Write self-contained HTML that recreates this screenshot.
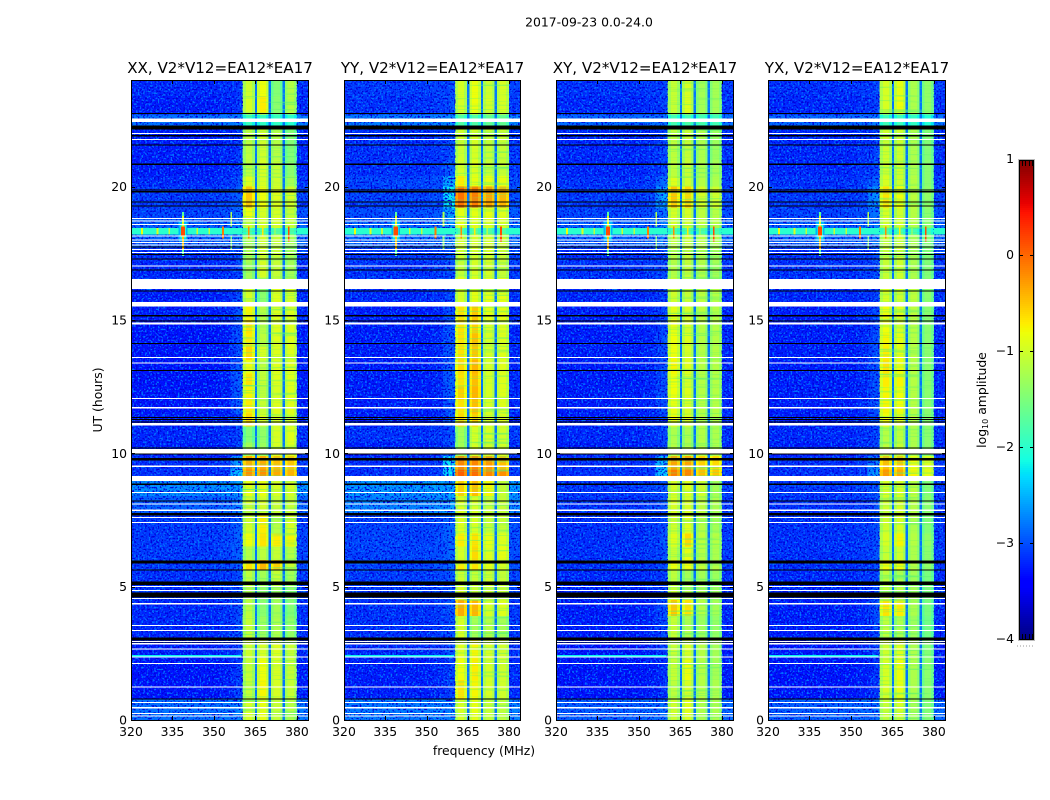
<!DOCTYPE html>
<html lang="en">
<head>
<meta charset="utf-8">
<title>2017-09-23 0.0-24.0</title>
<style>
html,body{margin:0;padding:0;background:#fff;}
svg{display:block;font-family:"DejaVu Sans","Liberation Sans",sans-serif;fill:#000;}
.cell{shape-rendering:crispEdges;}
.tick{font-size:12.4px;}
.ptitle{font-size:15.1px;}
</style>
</head>
<body>
<svg id="chart" width="1050" height="800" viewBox="0 0 1050 800" xmlns="http://www.w3.org/2000/svg">
  <defs>
    <filter id="grain" x="0" y="0" width="1" height="1" color-interpolation-filters="sRGB">
      <feTurbulence type="fractalNoise" baseFrequency="0.55" numOctaves="1" seed="3"/>
      <feColorMatrix values="0 0 0 0 0  0 0 0 0 0.45  0 0 0 0 1  8 0 0 0 -4.2"/>
    </filter>
    <filter id="grain-dark" x="0" y="0" width="1" height="1" color-interpolation-filters="sRGB">
      <feTurbulence type="fractalNoise" baseFrequency="0.55" numOctaves="1" seed="11"/>
      <feColorMatrix values="0 0 0 0 0  0 0 0 0 0  0 0 0 0 0.85  8 0 0 0 -4.3"/>
    </filter>
    <filter id="streak" x="0" y="0" width="1" height="1" color-interpolation-filters="sRGB">
      <feTurbulence type="fractalNoise" baseFrequency="0.015 0.55" numOctaves="2" seed="7"/>
      <feColorMatrix values="0 0 0 0 0.35  0 0 0 0 0.95  0 0 0 0 0.45  2.6 0 0 0 -1.4"/>
    </filter>
  </defs>
  <text x="589" y="26.5" text-anchor="middle" font-size="12.4">2017-09-23 0.0-24.0</text>
  <text x="102" y="400" text-anchor="middle" font-size="12.4" transform="rotate(-90 102 400)">UT (hours)</text>
  <text x="484" y="755" text-anchor="middle" font-size="12.4">frequency (MHz)</text>
  <text x="986" y="400" text-anchor="middle" font-size="12.4" transform="rotate(-90 986 400)">log<tspan font-size="8" dy="2">10</tspan><tspan dy="-2"> amplitude</tspan></text>
</svg>
<script>
// ---------- chart data ----------
const panelTitles = ['XX, V2*V12=EA12*EA17', 'YY, V2*V12=EA12*EA17', 'XY, V2*V12=EA12*EA17', 'YX, V2*V12=EA12*EA17'];
const xTicks = [320, 335, 350, 365, 380];
const yTicks = [0, 5, 10, 15, 20];
const colorTicks = [-4, -3, -2, -1, 0, 1];
const freqLimits = [320, 384];
const timeLimits = [0, 24];
const colorLimits = [-4, 1];

// Hour boundaries of the heatmap rows
const timeEdges = [0,0.8,1.5,2.3,3,3.9,4.5,5,5.6,6,6.5,7,7.7,8.4,9,9.4,9.9,10.4,11,11.5,12,12.5,13,13.5,14,14.5,15,15.5,16.2,16.6,17.2,17.7,18.2,18.45,18.8,19.2,20,20.4,21,22.2,22.7,23.4,24];

// Frequency boundaries (MHz) of the heatmap columns
const freqEdges = [320,352,356,358,360.4,361.5,363.7,364.8,365.6,366.6,368.8,369.8,370.6,371.6,373.8,374.8,375.6,376.6,378.9,380,384];
// Which value of a row each column reads: 0 background, 1 pre-band ramp, 2-5 sub-bands, 6 band gap
const columnSource = [0,0,1,1,2,2,2,6,3,3,3,6,4,4,4,6,5,5,5,0];
// Brightness change across each column (log10), read from the sub-band edges
const columnOffset = [-0.05,0,-0.08,0,-0.18,0.05,-0.2,0,-0.18,0.05,-0.2,0,-0.15,0.05,-0.15,0,-0.15,0.05,-0.15,0];
const gapValue = [-2.8];

// Per-row values: [background, ramp, band 1, band 2, band 3, band 4]
const xxRows = [
[-2.75,-2.7,-1,-0.9,-1.1,-1.2],[-3.25,-3.1,-1.1,-0.8,-1,-1.1],[-3.25,-3.1,-1.1,-0.85,-1,-1.1],[-3.2,-3.1,-1.05,-1,-0.95,-1.1],
[-3.15,-3,-1.1,-1.35,-1.25,-1.4],[-3.15,-3,-1.15,-1.45,-1.3,-1.5],[-3.1,-3,-1.2,-1.4,-1.3,-1.45],[-3.1,-3,-1.15,-1.3,-1.1,-1.3],
[-3.05,-2.9,-0.7,-0.45,-0.6,-1.05],[-3.05,-2.9,-1.2,-1.15,-1.1,-1.2],[-3.05,-2.9,-0.85,-0.7,-0.75,-0.8],[-3.05,-2.9,-1,-0.75,-1.2,-1],
[-2.85,-2.7,-1,-1,-1.1,-1.1],[-2.6,-2.55,-0.9,-0.9,-1,-1],[-3.1,-2.4,-0.25,-0.25,-0.4,-0.45],[-3.1,-2.6,-0.4,-0.4,-0.5,-0.55],
[-3.2,-3.1,-1.3,-1.35,-1,-0.95],[-3.15,-3.05,-1.5,-1.4,-1,-0.95],[-3.2,-3.05,-0.65,-1,-1,-1],[-3.25,-2.95,-0.75,-1.1,-0.95,-0.95],
[-3.25,-2.95,-0.8,-1.15,-1,-0.95],[-3.25,-2.95,-0.7,-1.1,-0.95,-0.95],[-3.25,-2.95,-0.85,-1.15,-0.95,-0.95],[-3.25,-3,-0.65,-1,-0.95,-0.95],
[-3.25,-3,-0.75,-1.15,-0.95,-0.95],[-3.25,-3,-0.7,-1.2,-0.95,-0.95],[-3.2,-3,-0.8,-1.2,-0.95,-0.95],[-3.2,-3,-1,-1.45,-0.95,-1],
[-3.1,-3,-1.3,-1.3,-1.1,-1.1],[-3.15,-3.05,-1.3,-1,-1.1,-1.3],[-3.1,-3,-1.25,-1.05,-1.1,-1.3],[-2.85,-2.7,-1.2,-1.05,-1.1,-1.3],
[-2,-2,-1.85,-1.8,-1.8,-1.85],[-2.85,-2.7,-1.05,-1,-1,-1.1],[-3,-2.85,-0.85,-1,-1,-1.1],[-3.05,-2.9,-0.55,-0.85,-0.95,-1],
[-3.15,-3,-0.95,-1,-1.05,-1.3],[-3.2,-3.1,-1.15,-1,-1.1,-1.45],[-3.2,-3.1,-1.15,-1.05,-1.2,-1.5],[-2.75,-2.7,-2,-2,-2,-2.05],
[-3.2,-3.1,-1,-0.75,-1.45,-1.2],[-3.15,-3.1,-1.05,-0.85,-1.5,-1.2]];
const yyRows = [
[-2.7,-2.7,-1,-0.9,-1.1,-1.15],[-3.2,-3.05,-0.7,-0.8,-1,-1.05],[-3.2,-3.05,-0.85,-0.75,-1,-1.05],[-3.15,-3,-0.95,-0.8,-1,-1.05],
[-3.1,-3,-1,-1.3,-1.2,-1.3],[-3.1,-2.95,-0.4,-0.45,-1,-0.95],[-3.05,-2.95,-1,-1.1,-1.1,-1.1],[-3.05,-2.95,-1.05,-1.1,-1.05,-1.1],
[-3,-2.85,-0.75,-0.7,-0.9,-1],[-3,-2.85,-1,-0.65,-0.95,-0.9],[-3,-2.85,-0.75,-0.7,-0.9,-0.95],[-3,-2.85,-0.95,-1,-1.1,-1.1],
[-2.65,-2.55,-0.95,-1,-1.1,-1.1],[-2.55,-2.5,-0.6,-0.5,-0.8,-1.1],[-3.1,-2.2,0,-0.05,-0.2,-0.25],[-3.1,-2.2,-0.2,-0.2,-0.3,-0.5],
[-3.2,-3,-1.3,-1,-1,-1],[-3.1,-3,-1.3,-1,-1,-1.05],[-3.2,-2.95,-0.65,-0.6,-1,-0.95],[-3.2,-2.95,-0.7,-0.5,-1,-0.95],
[-3.2,-2.9,-0.6,-0.45,-1,-0.95],[-3.2,-2.9,-0.7,-0.5,-1,-0.95],[-3.2,-2.9,-0.65,-0.45,-1,-0.95],[-3.2,-2.95,-0.7,-0.55,-1,-0.95],
[-3.2,-2.95,-0.7,-0.5,-1,-0.95],[-3.2,-2.95,-0.7,-0.6,-1,-0.95],[-3.2,-3,-0.7,-0.55,-0.9,-0.9],[-3.15,-3,-1,-0.9,-0.9,-0.9],
[-3.05,-2.95,-0.9,-0.9,-0.9,-0.9],[-3.1,-3,-1.1,-1,-1,-1.1],[-3.05,-2.95,-1.05,-1,-1,-1.1],[-2.8,-2.6,-1,-1,-1,-1.05],
[-2,-2,-1.8,-1.75,-1.8,-1.8],[-2.8,-2.6,-0.95,-0.95,-0.95,-1],[-2.95,-2.5,-0.9,-0.9,-0.9,-0.95],[-3,-2.2,-0.1,-0.15,-0.35,-0.45],
[-3,-2.5,-0.75,-0.9,-0.9,-0.9],[-3.1,-2.9,-1,-0.95,-1.1,-1.1],[-3.1,-3,-1.05,-1,-1.1,-1.1],[-2.7,-2.65,-1.8,-1.8,-1.7,-1.7],
[-3.1,-3,-1,-0.85,-1,-1],[-3.05,-3,-1,-0.85,-1.05,-1]];
const xyRows = [
[-2.85,-2.8,-1.05,-0.95,-1.25,-1.25],[-3.25,-3.15,-1.15,-1,-1.2,-1.25],[-3.25,-3.15,-1.1,-0.85,-1.2,-1.3],[-3.25,-3.1,-1.1,-1,-1.2,-1.3],
[-3.2,-3.05,-1.1,-1.25,-1.35,-1.4],[-3.2,-3,-0.55,-0.7,-1.2,-1.3],[-3.15,-3.05,-1.1,-1.25,-1.3,-1.35],[-3.15,-3.05,-1.15,-1.3,-1.3,-1.35],
[-3.1,-3,-0.85,-0.85,-1.1,-1.2],[-3.1,-3,-1.1,-0.9,-1.2,-1.25],[-3.1,-3,-0.95,-0.65,-1.15,-1.2],[-3.1,-3,-1.05,-0.95,-1.2,-1.3],
[-3.1,-3,-1,-1,-1.15,-1.25],[-3.05,-2.95,-1,-0.95,-1.05,-1.3],[-3.1,-2.35,-0.15,-0.2,-0.5,-0.55],[-3.1,-2.45,-0.35,-0.35,-0.6,-0.65],
[-3.2,-3.05,-1.2,-1.2,-1.2,-1.25],[-3.15,-3.05,-1.25,-1.25,-1.2,-1.25],[-3.2,-3.05,-0.85,-0.95,-1.2,-1.2],[-3.2,-3,-0.9,-1,-1.2,-1.2],
[-3.2,-3,-0.85,-0.95,-1.2,-1.2],[-3.2,-3,-0.85,-1,-1.2,-1.2],[-3.2,-3,-0.8,-0.95,-1.2,-1.2],[-3.2,-3,-0.85,-1,-1.2,-1.2],
[-3.2,-3,-0.85,-0.95,-1.2,-1.2],[-3.2,-3.05,-0.9,-1,-1.2,-1.2],[-3.2,-3.05,-0.9,-1,-1.15,-1.2],[-3.15,-3.05,-1.05,-1.1,-1.15,-1.2],
[-3.1,-3,-1.1,-1.1,-1.2,-1.2],[-3.1,-3,-1.2,-1.1,-1.2,-1.3],[-3.1,-3,-1.2,-1.1,-1.2,-1.3],[-2.85,-2.7,-1.15,-1.1,-1.2,-1.25],
[-2,-2,-1.85,-1.85,-1.85,-1.85],[-2.85,-2.7,-1.05,-1.05,-1.15,-1.2],[-3,-2.8,-1,-1,-1.15,-1.2],[-3.05,-2.55,-0.55,-0.65,-1,-1.05],
[-3.1,-2.85,-0.95,-1.05,-1.2,-1.25],[-3.15,-3.05,-1.15,-1.1,-1.25,-1.3],[-3.15,-3.05,-1.15,-1.1,-1.25,-1.35],[-2.8,-2.75,-1.9,-1.9,-1.9,-1.9],
[-3.15,-3.05,-1.1,-0.95,-1.3,-1.3],[-3.1,-3.05,-1.1,-1,-1.3,-1.3]];
const yxRows = [
[-2.85,-2.8,-1.1,-1,-1.3,-1.5],[-3.25,-3.15,-1,-0.9,-1.25,-1.45],[-3.25,-3.15,-1,-0.85,-1.25,-1.45],[-3.25,-3.1,-1.05,-0.95,-1.25,-1.5],
[-3.2,-3.05,-1.15,-1.25,-1.35,-1.6],[-3.2,-3,-0.7,-0.75,-1.25,-1.55],[-3.15,-3.05,-1.1,-1.15,-1.3,-1.55],[-3.15,-3.05,-1.15,-1.25,-1.3,-1.55],
[-3.1,-3,-0.85,-0.85,-1.2,-1.4],[-3.1,-3,-1.1,-1.05,-1.25,-1.45],[-3.1,-3,-1,-0.8,-1.2,-1.4],[-3.1,-3,-1.05,-1,-1.25,-1.5],
[-3.1,-3,-1.05,-1,-1.2,-1.45],[-3.05,-2.95,-1,-1,-1.15,-1.5],[-3.1,-2.6,-0.3,-0.4,-0.8,-0.9],[-3.1,-2.7,-0.5,-0.55,-0.85,-0.95],
[-3.2,-3.05,-1.15,-1.1,-1.25,-1.45],[-3.15,-3.05,-1.2,-1.15,-1.25,-1.45],[-3.2,-3.05,-0.85,-0.95,-1.2,-1.45],[-3.2,-3,-0.8,-0.85,-1.2,-1.45],
[-3.2,-3,-0.8,-0.85,-1.2,-1.45],[-3.2,-3,-0.75,-0.8,-1.2,-1.45],[-3.2,-3,-0.7,-0.85,-1.2,-1.45],[-3.2,-3,-0.75,-0.9,-1.2,-1.45],
[-3.2,-3,-0.8,-0.9,-1.2,-1.45],[-3.2,-3.05,-0.85,-1,-1.2,-1.45],[-3.2,-3.05,-0.85,-0.95,-1.15,-1.45],[-3.15,-3.05,-1,-1.05,-1.15,-1.45],
[-3.1,-3,-1.05,-1.05,-1.2,-1.45],[-3.1,-3,-1.1,-1.05,-1.25,-1.5],[-3.1,-3,-1.1,-1.05,-1.25,-1.5],[-2.85,-2.75,-1.1,-1.05,-1.25,-1.5],
[-2,-2,-1.85,-1.85,-1.9,-1.95],[-2.85,-2.75,-1.05,-1.05,-1.2,-1.45],[-3,-2.8,-1,-1.05,-1.2,-1.45],[-3.05,-2.65,-0.7,-0.85,-1.15,-1.4],
[-3.1,-2.9,-1,-1.05,-1.2,-1.45],[-3.15,-3.05,-1.05,-1.05,-1.25,-1.45],[-3.15,-3.05,-1.05,-1.05,-1.25,-1.5],[-2.8,-2.75,-1.95,-1.95,-2,-2.1],
[-3.15,-3.05,-1,-0.85,-1.25,-1.4],[-3.1,-3.05,-1,-0.9,-1.25,-1.4]];

// Localised bright features: [hour start, hour end, freq start, freq end, log10 amplitude]
const sourceFeatures = [
[18.2,18.45,320,360.4,-2],[18.2,18.45,380,384,-2],[17.95,18.7,337.2,340.4,-2.5],[18.05,18.6,337.9,339.8,-2],[17.4,19.05,338.5,339.2,-1.7],[17.65,18.15,338.5,339.2,-0.5],[18.5,18.9,338.5,339.2,-0.9],[18.15,18.5,338,339.6,0.15],
[17.65,18.15,355.9,356.6,-1.45],[18.5,19.05,355.9,356.6,-1.2],[18.2,18.45,323.7,324.4,-0.8],[18.2,18.45,329.3,330,-0.9],[18.2,18.45,333.5,334.1,-1.1],
[18.2,18.45,343.6,344.2,-1],[18.2,18.45,348,348.5,-1.1],[18.05,18.5,352.9,353.6,-0.1],[18.05,18.5,362.3,362.9,-0.2],[18.1,18.5,367.3,367.9,-0.7],
[18.15,18.45,371.8,372.3,-1.2],[17.95,18.5,376.7,377.4,0.15],[2.39,2.44,320,360,-2.2]];

// Masked (white) and zero-amplitude (black) rows, in hours
const maskedRows = [
[22.43,22.55],[21.97,22.01],[21.75,21.79],[18.79,18.83],[18.69,18.73],[18.56,18.6],[18.13,18.17],[17.98,18.02],[17.88,17.92],[17.79,17.83],[17.63,17.67],[17.51,17.55],[17.01,17.05],
[16.16,16.53],[15.5,15.67],[14.83,14.9],[13.58,13.62],[13.37,13.41],[12.04,12.08],[11.68,11.73],[11.04,11.13],[10,10.17],[9.48,9.54],[8.97,9.15],[8.51,8.55],[8.08,8.12],[7.84,7.9],[7.58,7.62],[7.39,7.43],
[4.98,5.02],[4.84,4.88],[4.54,4.58],[4.34,4.38],[3.53,3.57],[3.33,3.37],[2.93,2.97],[2.84,2.88],[2.64,2.68],[2.35,2.39],[2.1,2.14],[1.21,1.25],[0.63,0.67],[0.44,0.48],[0.23,0.27],[0.13,0.17]];
const zeroRows = [
[22.73,22.77],[22.14,22.3],[21.89,21.93],[21.54,21.58],[20.82,20.86],[19.85,19.89],[19.79,19.83],[19.41,19.45],[19.25,19.29],[17.71,17.75],[17.44,17.48],[17.26,17.3],[16.85,16.89],[16.07,16.11],[15.14,15.18],[14.95,14.99],[14.1,14.14],[13.09,13.13],
[11.33,11.37],[11.25,11.29],[11.16,11.2],[10.18,10.22],[9.95,9.99],[9.74,9.82],[8.82,8.86],[8.2,8.24],[7.66,7.76],[5.87,5.99],[5.6,5.64],[5.07,5.19],[4.59,4.78],[2.98,3.09],[2.9,2.93],[0.76,0.8]];

const panelRows = [xxRows, yyRows, xyRows, yxRows];
const panelBoxes = [{l:131,r:308},{l:344,r:520},{l:556,r:733},{l:768,r:945}];
const plotTop = 80, plotBottom = 720;
const barBox = {l:1019, r:1034, t:160, b:640};

// ---------- scales ----------
const NS = 'http://www.w3.org/2000/svg';
const svg = document.getElementById('chart');
function make(tag, attrs, parent) {
  const el = document.createElementNS(NS, tag);
  for (const k in attrs) el.setAttribute(k, attrs[k]);
  (parent || svg).appendChild(el);
  return el;
}
function yScale(h) { return plotBottom - (h - timeLimits[0]) / (timeLimits[1] - timeLimits[0]) * (plotBottom - plotTop); }
function xScale(box, f) { return box.l + (f - freqLimits[0]) / (freqLimits[1] - freqLimits[0]) * (box.r - box.l); }
function barScale(v) { return barBox.b - (v - colorLimits[0]) / (colorLimits[1] - colorLimits[0]) * (barBox.b - barBox.t); }
function clamp(v) { return Math.max(0, Math.min(1, v)); }
function jet(v) {
  const t = clamp((v - colorLimits[0]) / (colorLimits[1] - colorLimits[0]));
  let r, g, b;
  if (t < 0.35) r = 0; else if (t < 0.66) r = (t - 0.35) / 0.31; else if (t < 0.89) r = 1; else r = 1 - 0.5 * (t - 0.89) / 0.11;
  if (t < 0.125) g = 0; else if (t < 0.375) g = (t - 0.125) / 0.25; else if (t < 0.64) g = 1; else if (t < 0.91) g = 1 - (t - 0.64) / 0.27; else g = 0;
  if (t < 0.11) b = 0.5 + 0.5 * t / 0.11; else if (t < 0.34) b = 1; else if (t < 0.65) b = 1 - (t - 0.34) / 0.31; else b = 0;
  return 'rgb(' + Math.round(r * 255) + ',' + Math.round(g * 255) + ',' + Math.round(b * 255) + ')';
}

// ---------- panels ----------
panelRows.forEach(function (rows, p) {
  const box = panelBoxes[p];
  const g = make('g', {});
  
  

  make('rect', {x: box.l, y: plotTop, width: box.r - box.l, height: plotBottom - plotTop, fill: '#fff'}, g);

  rows.forEach(function (row, r) {
    const y0 = yScale(timeEdges[r + 1]), y1 = yScale(timeEdges[r]);
    columnSource.forEach(function (src, c) {
      const x0 = xScale(box, freqEdges[c]), x1 = xScale(box, freqEdges[c + 1]);
      const base = src === 6 ? gapValue[0] : row[src];
      const v = base + columnOffset[c];
      const cell = make('rect', {class: 'cell', x: x0, y: y0, width: x1 - x0, height: y1 - y0, fill: jet(v)}, g);
      
      
    });
  });

  const bandL = xScale(box, 360.4), bandR = xScale(box, 380);
  [[box.l, bandL], [bandR, box.r]].forEach(function (span) {
    make('rect', {x: span[0], y: plotTop, width: span[1] - span[0], height: plotBottom - plotTop, filter: 'url(#grain)'}, g);
    make('rect', {x: span[0], y: plotTop, width: span[1] - span[0], height: plotBottom - plotTop, filter: 'url(#grain-dark)'}, g);
  });
  make('rect', {x: bandL, y: plotTop, width: bandR - bandL, height: plotBottom - plotTop, filter: 'url(#streak)'}, g);

  sourceFeatures.forEach(function (f) {
    const x0 = xScale(box, f[2]), x1 = xScale(box, f[3]);
    const y0 = yScale(f[1]), y1 = yScale(f[0]);
    const mark = make('rect', {class: 'cell', x: x0, y: y0, width: x1 - x0, height: y1 - y0, fill: jet(f[4])}, g);
    
    
  });

  maskedRows.forEach(function (m) {
    const row = make('rect', {class: 'cell', x: box.l, y: yScale(m[1]), width: box.r - box.l, height: yScale(m[0]) - yScale(m[1]), fill: '#fff'}, g);
    
    
  });
  zeroRows.forEach(function (m) {
    const row = make('rect', {class: 'cell', x: box.l, y: yScale(m[1]), width: box.r - box.l, height: yScale(m[0]) - yScale(m[1]), fill: '#000'}, g);
    
    
  });

  const frame = make('rect', {x: box.l + 0.5, y: plotTop + 0.5, width: box.r - box.l, height: plotBottom - plotTop, fill: 'none', stroke: '#000', 'stroke-width': 1}, g);
  
  

  xTicks.forEach(function (t) {
    const x = Math.round(xScale(box, t)) + 0.5;
    make('path', {d: 'M' + x + ' ' + plotBottom + 'v-4M' + x + ' ' + plotTop + 'v4', stroke: '#000', 'stroke-width': 1, fill: 'none'}, g);
    const lab = make('text', {class: 'tick', x: xScale(box, t), y: 736, 'text-anchor': 'middle'}, g);
    lab.textContent = t;
    
    
  });
  yTicks.forEach(function (t) {
    const y = Math.round(yScale(t)) + 0.5;
    make('path', {d: 'M' + box.l + ' ' + y + 'h4M' + (box.r + 1) + ' ' + y + 'h-4', stroke: '#000', 'stroke-width': 1, fill: 'none'}, g);
    const lab = make('text', {class: 'tick', x: box.l - 4, y: yScale(t) + 4.5, 'text-anchor': 'end'}, g);
    lab.textContent = t;
    
    
  });

  const title = make('text', {class: 'ptitle', x: (box.l + box.r) / 2 + 0.5, y: 73, 'text-anchor': 'middle'}, g);
  title.textContent = panelTitles[p];
  
  
});

// ---------- colorbar ----------
const bar = make('g', {});


for (let y = barBox.t; y < barBox.b; y += 2) {
  const v = colorLimits[1] - (y + 1 - barBox.t) / (barBox.b - barBox.t) * (colorLimits[1] - colorLimits[0]);
  make('rect', {class: 'cell', x: barBox.l, y: y, width: barBox.r - barBox.l, height: 2, fill: jet(v)}, bar);
}
make('rect', {x: barBox.l + 0.5, y: barBox.t + 0.5, width: barBox.r - barBox.l - 1, height: barBox.b - barBox.t - 1, fill: 'none', stroke: '#000', 'stroke-width': 1}, bar);
make('rect', {x: barBox.l - 0.5, y: barBox.t - 0.5, width: barBox.r - barBox.l + 1, height: barBox.b - barBox.t + 1, fill: 'none', stroke: '#bbb', 'stroke-width': 1}, bar);
colorTicks.forEach(function (t) {
  const y = Math.round(barScale(t)) - 0.5;
  if (t > colorLimits[0] && t < colorLimits[1]) {
    make('path', {d: 'M' + barBox.l + ' ' + y + 'h4M' + barBox.r + ' ' + y + 'h-4', stroke: '#000', 'stroke-width': 1, fill: 'none'}, bar);
  }
  const lab = make('text', {class: 'tick', x: barBox.l - 5, y: barScale(t) + 3, 'text-anchor': 'end'}, bar);
  lab.textContent = String(t).replace('-', '\u2212');
  
  
});
[1022.5, 1025.5, 1029.5, 1032.5].forEach(function (x) {
  make('path', {d: 'M' + x + ' ' + barBox.t + 'v6M' + x + ' ' + barBox.b + 'v-6', stroke: '#000', 'stroke-width': 1, fill: 'none'}, bar);
});
make('path', {d: 'M1017 646H1035', stroke: '#999', 'stroke-width': 1, 'stroke-dasharray': '1 2', fill: 'none'}, bar);
</script>
</body>
</html>
